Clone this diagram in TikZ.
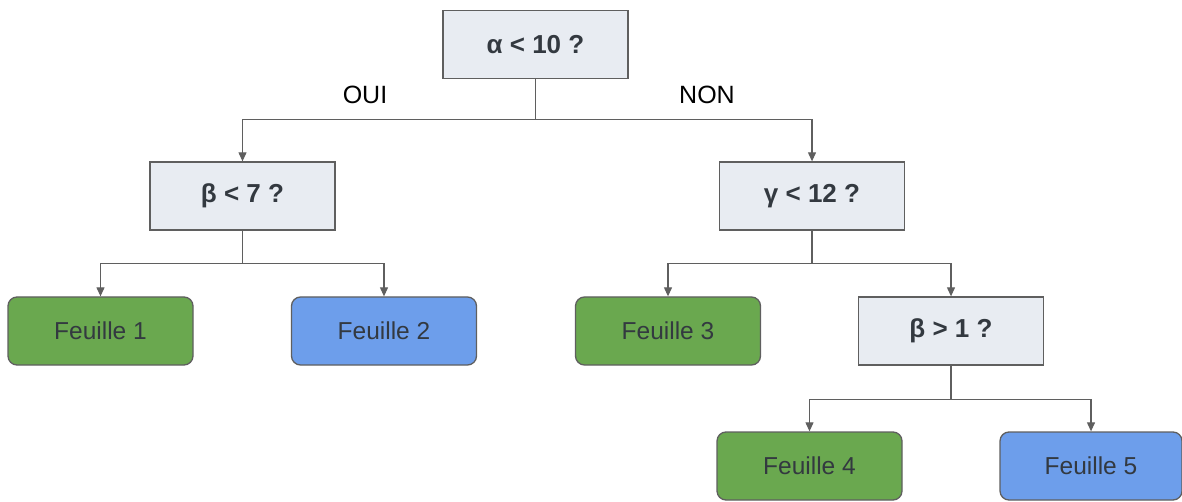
\documentclass[tikz,border=0pt]{standalone}
\usepackage{fontspec}
\setmainfont{Liberation Sans}
\usetikzlibrary{arrows.meta}
\definecolor{qfill}{HTML}{E8ECF2}
\definecolor{qline}{HTML}{5F5F5F}
\definecolor{leafgreen}{HTML}{6AA84F}
\definecolor{leafblue}{HTML}{6D9EEB}
\definecolor{txt}{HTML}{333940}
\begin{document}
\begin{tikzpicture}[x=1pt, y=-1pt,
		question/.style={draw=qline, line width=1.3pt, fill=qfill, text=txt, minimum width=185pt, minimum height=68pt, inner sep=0pt, font=\fontsize{26}{30}\selectfont\bfseries},
		leaf/.style={draw=qline, line width=1.3pt, rounded corners=9pt, text=txt, minimum width=185pt, minimum height=68pt, inner sep=0pt, font=\fontsize{24.5}{29}\selectfont},
		branch/.style={draw=qline, line width=1.1pt, -{Triangle[width=8pt,length=9pt]}},
		answer/.style={text=black, font=\fontsize{25}{29}\selectfont}]
		\useasboundingbox (0,0) rectangle (1182,502);
		% questions
		\node[question] (alpha) at (535.5,44.5) {α < 10 ?};
		\node[question] (beta) at (242.5,196) {β < 7 ?};
		\node[question] (gamma) at (812,196) {γ < 12 ?};
		\node[question] (betabis) at (951,331) {β > 1 ?};
		% leaves
		\node[leaf, fill=leafgreen] (f1) at (100.5,331) {Feuille 1};
		\node[leaf, fill=leafblue] (f2) at (384,331) {Feuille 2};
		\node[leaf, fill=leafgreen] (f3) at (668,331) {Feuille 3};
		\node[leaf, fill=leafgreen] (f4) at (809.5,466) {Feuille 4};
		\node[leaf, fill=leafblue, minimum width=182pt] (f5) at (1091,466) {Feuille 5};
		% answers
		\node[answer] (oui) at (365,95) {OUI};
		\node[answer] (non) at (707,95) {NON};
		% branches
		\draw[branch] (alpha.south) -- ++(0,40) -| (beta.north);
		\draw[branch] (alpha.south) -- ++(0,40) -| (gamma.north);
		\draw[branch] (beta.south) -- ++(0,33) -| (f1.north);
		\draw[branch] (beta.south) -- ++(0,33) -| (f2.north);
		\draw[branch] (gamma.south) -- ++(0,33) -| (f3.north);
		\draw[branch] (gamma.south) -- ++(0,33) -| (betabis.north);
		\draw[branch] (betabis.south) -- ++(0,34) -| (f4.north);
		\draw[branch] (betabis.south) -- ++(0,34) -| (f5.north);
\end{tikzpicture}
\end{document}
